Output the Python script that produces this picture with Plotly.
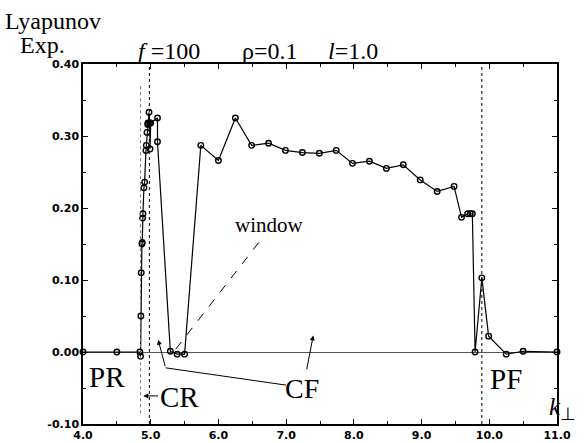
import plotly.graph_objects as go

# ---- data ----
k_perp = [4.0, 4.5, 4.84, 4.85, 4.855, 4.86, 4.87, 4.875, 4.88, 4.885, 4.90, 4.91,
          4.93, 4.935, 4.945, 4.955, 4.96, 4.975, 4.985, 4.99, 5.00, 5.10, 5.10,
          5.29, 5.39, 5.50, 5.74, 6.00, 6.25, 6.49, 6.74, 6.99, 7.24, 7.49, 7.74,
          7.98, 8.23, 8.48, 8.73, 8.98, 9.23, 9.48, 9.59, 9.68, 9.72, 9.75, 9.79,
          9.89, 9.99, 10.25, 10.50, 11.0]
lyap = [0.0, 0.0, 0.0, -0.006, 0.050, 0.110, 0.150, 0.152, 0.186, 0.192, 0.228, 0.236,
        0.280, 0.287, 0.305, 0.316, 0.318, 0.333, 0.318, 0.282, 0.318, 0.325, 0.292,
        0.001, -0.003, -0.003, 0.287, 0.266, 0.325, 0.287, 0.290, 0.280, 0.277, 0.276, 0.280,
        0.262, 0.265, 0.255, 0.260, 0.239, 0.223, 0.230, 0.187, 0.192, 0.192, 0.192, 0.0,
        0.103, 0.022, -0.003, 0.001, 0.0]

x_ticks = [4.0, 5.0, 6.0, 7.0, 8.0, 9.0, 10.0, 11.0]
x_tick_labels = ["4.0", "5.0", "6.0", "7.0", "8.0", "9.0", "10.0", "11.0"]
y_ticks = [-0.10, 0.00, 0.10, 0.20, 0.30, 0.40]
y_tick_labels = ["-0.10", "0.00", "0.10", "0.20", "0.30", "0.40"]

transition_k = [4.85, 4.98, 9.89]

SERIF = "Liberation Serif"

fig = go.Figure()
fig.add_trace(go.Scatter(
    x=k_perp, y=lyap, mode="lines+markers",
    line=dict(color="black", width=1.2),
    marker=dict(symbol="circle-open", size=5.5, color="black", line=dict(width=1.4)),
    showlegend=False, cliponaxis=False))

# dotted vertical transition lines
fig.add_shape(type="line", x0=transition_k[0], x1=transition_k[0], y0=-0.085, y1=0.37,
              xref="x", yref="y", line=dict(color="#777", width=1, dash="dot"))
for xv in transition_k[1:]:
    fig.add_shape(type="line", x0=xv, x1=xv, y0=-0.10, y1=0.40,
                  xref="x", yref="y", line=dict(color="black", width=1, dash="dot"))

# window dashed pointer
fig.add_shape(type="line", x0=5.37, y0=0.004, x1=6.62, y1=0.155,
              xref="x", yref="y", line=dict(color="black", width=1, dash="dash"))
# CF polyline (first segment)
fig.add_shape(type="line", x0=7.0, y0=-0.046, x1=5.22, y1=-0.022,
              xref="x", yref="y", line=dict(color="black", width=1))

def arrow(xh, yh, xt, yt):
    fig.add_annotation(x=xh, y=yh, ax=xt, ay=yt, xref="x", yref="y", axref="x", ayref="y",
                       text="", showarrow=True, arrowhead=2, arrowsize=1, arrowwidth=1,
                       arrowcolor="black")

arrow(5.11, 0.017, 5.22, -0.022)
arrow(7.40, 0.023, 7.30, -0.026)
arrow(4.89, -0.061, 5.13, -0.061)

def label(x, y, text, size=26, xref="x", yref="y", xanchor="center"):
    fig.add_annotation(x=x, y=y, xref=xref, yref=yref, text=text, showarrow=False,
                       xanchor=xanchor, yanchor="middle",
                       font=dict(family=SERIF, size=size, color="black"))

label(4.36, -0.035, "PR", size=29)
label(5.43, -0.063, "CR", size=29)
label(7.24, -0.051, "CF", size=28)
label(10.24, -0.037, "PF", size=29)
label(6.76, 0.176, "window", size=21)

def plabel(px, py, text, size=24):
    label((px - 83) / 474, (424 - py) / 360, text, size=size, xref="paper", yref="paper")

plabel(53, 21, "Lyapunov")
plabel(42, 45, "Exp.")
plabel(169, 51, "<i>f</i> =100")
plabel(270, 51, "ρ=0.1")
plabel(353, 51, "<i>l</i>=1.0")
plabel(562, 408, "<i>k</i><sub>⊥</sub>", size=25)

axis_common = dict(showline=True, linecolor="black", linewidth=1.5, mirror="ticks",
                   ticks="inside", ticklen=5, tickwidth=1, tickcolor="black",
                   showgrid=False, automargin=False,
                   tickfont=dict(family="DejaVu Sans", size=11, color="black", weight="bold"))

fig.update_xaxes(range=[4.0, 11.0], tickvals=x_ticks, ticktext=x_tick_labels,
                 zeroline=False,
                 minor=dict(ticks="inside", ticklen=3, dtick=0.5, tickcolor="black", showgrid=False),
                 **axis_common)
fig.update_yaxes(range=[-0.10, 0.40], tickvals=y_ticks, ticktext=y_tick_labels,
                 zeroline=True, zerolinecolor="#555", zerolinewidth=1,
                 minor=dict(ticks="inside", ticklen=3, dtick=0.05, tickcolor="black", showgrid=False),
                 **axis_common)

fig.update_layout(width=584, height=443, margin=dict(l=83, r=27, t=64, b=19),
                  plot_bgcolor="white", paper_bgcolor="white")

fig.write_html("out.html")
